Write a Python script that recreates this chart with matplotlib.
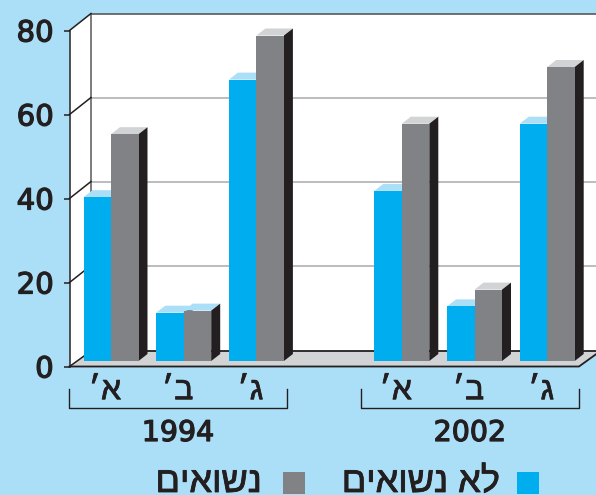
import matplotlib
matplotlib.use("Agg")
import matplotlib.pyplot as plt
from matplotlib.patches import Polygon, Rectangle
import matplotlib.patheffects as pe
import numpy as np

# ---- data ----
years = ["1994", "2002"]
tick_values = [0, 20, 40, 60, 80]
# Hebrew strings are stored in visual order: matplotlib does not apply bidi
categories = ["׳א", "׳ב", "׳ג", "׳א", "׳ב", "׳ג"]
not_married = [39, 11.5, 67, 40.5, 13, 56.5]
married = [54, 12, 77.5, 56.5, 17, 70]
label_not_married = "לא נשואים"[::-1]
label_married = "נשואים"[::-1]
slots = [0, 1, 2, 4, 5, 6]

# ---- style / layout ----
BG = "#ABDFF8"; BLUE = "#00AEEF"; GREY = "#808285"; DARK = "#231F20"
LIGHTGREY = "#D1D3D4"; GRID = "#A7A9AC"; WALL = "#58595B"
W, H = 596, 495
X0, SX = 111.0, 72.7     # pixel position of slot 0, pixels per slot
Y0, SY = 366.5, 4.2      # pixel position of value 0, pixels per unit
def dx(px): return px / SX
def dy(px): return px / SY
def X(px): return (px - X0) / SX
def Y(py): return (Y0 - py) / SY
DEPTH_X, DEPTH_Y = dx(21.5), dy(15.5)    # depth of the box at the floor
DEPTH_Y_UP = dy(17)                      # depth of the box at the gridlines
BAR_DX, BAR_DY = dx(9), dy(7)            # depth of each bar
BAR_W = dx(27.5)
BASE = dy(5.5)                           # bar foot above the front floor edge
HEB = ["Liberation Sans", "DejaVu Sans"]
def thick(w):
    return [pe.withStroke(linewidth=w, foreground=DARK)]

fig = plt.figure(figsize=(W / 100, H / 100), dpi=100, facecolor=BG)
ax = fig.add_axes([0, 0, 1, 1], facecolor=BG)
ax.set_xlim(X(0), X(W))
ax.set_ylim(Y(H), Y(0))
for s in ["top", "right", "bottom"]:
    ax.spines[s].set_visible(False)

left = X(69.5)
right_front = X(579)
vmax = 80
far = X(W + 10)
# back wall, side wall, floor
ax.add_patch(Polygon([(left, 0), (left + DEPTH_X, DEPTH_Y), (left + DEPTH_X, vmax + DEPTH_Y_UP),
                      (left, vmax)], fc="white", ec="none", zorder=1))
ax.add_patch(Rectangle((left + DEPTH_X, DEPTH_Y), far - left - DEPTH_X, vmax + DEPTH_Y_UP - DEPTH_Y,
                       fc="white", ec="none", zorder=1))
ax.add_patch(Polygon([(left, 0), (left + DEPTH_X, DEPTH_Y), (right_front + DEPTH_X, DEPTH_Y),
                      (right_front, 0)], fc=LIGHTGREY, ec="none", zorder=2))
for v in tick_values[1:-1]:
    ax.plot([left + DEPTH_X, far], [v + DEPTH_Y_UP] * 2, color=GRID, lw=1.1, zorder=2)
ax.plot([left + DEPTH_X, far], [vmax + DEPTH_Y_UP] * 2, color=WALL, lw=1.2, zorder=3)
ax.plot([left + DEPTH_X] * 2, [DEPTH_Y, vmax + DEPTH_Y_UP], color=WALL, lw=1.1, zorder=3)
for v in tick_values:
    ax.plot([left, left + DEPTH_X], [v, v + (DEPTH_Y if v == 0 else DEPTH_Y_UP)], color=DARK, lw=1.1, zorder=3)
ax.plot([left + DEPTH_X, right_front + DEPTH_X], [DEPTH_Y] * 2, color=DARK, lw=1.3, zorder=3)
ax.plot([left, right_front, right_front + DEPTH_X], [0, 0, DEPTH_Y], color=DARK, lw=1.3, zorder=3)

# bars
def bar3d(x0, value, front, top, z):
    ax.bar(x0, value, BAR_W, bottom=BASE, align="edge", color=front, zorder=z + 0.2)
    t = BASE + value
    ax.add_patch(Polygon([(x0, t), (x0 + BAR_W, t), (x0 + BAR_W + BAR_DX, t + BAR_DY), (x0 + BAR_DX, t + BAR_DY)],
                         fc=top, ec="none", zorder=z))
    ax.add_patch(Polygon([(x0 + BAR_W, BASE), (x0 + BAR_W + BAR_DX, BASE + BAR_DY),
                          (x0 + BAR_W + BAR_DX, t + BAR_DY), (x0 + BAR_W, t)],
                         fc=DARK, ec="none", zorder=z))

for i, (s, a, b) in enumerate(zip(slots, not_married, married)):
    bar3d(s - BAR_W, a, BLUE, BG, 4 + i)
    # grey bars have grey caps; the 1994 ב bar has a light blue one
    bar3d(s, b, GREY, BG if i == 1 else LIGHTGREY, 4.5 + i)

# axis
ax.spines["left"].set_position(("data", left))
ax.spines["left"].set_bounds(0, vmax)
ax.spines["left"].set_color(DARK)
ax.spines["left"].set_linewidth(1.1)
ax.spines["left"].set_zorder(3.5)
ax.set_yticks(tick_values)
ax.set_yticklabels([str(v) for v in tick_values])
ax.tick_params(axis="y", length=4.5, width=1.1, color=DARK, pad=7, labelsize=21, labelcolor=DARK)
for t in ax.get_yticklabels():
    t.set_family("DejaVu Sans")
    t.set_path_effects(thick(0.9))
ax.xaxis.set_ticks_position("bottom")
ax.spines["bottom"].set_position(("data", 0))
ax.set_xticks([s - dx(6) for s in slots])
ax.set_xticklabels(categories)
ax.tick_params(axis="x", length=0, pad=7, labelsize=23, labelcolor=DARK)
for t in ax.get_xticklabels():
    t.set_family(HEB)
    t.set_path_effects(thick(0.5))

# brackets + year labels
spans = [(69, 287), (361, 579)]
for (a, b), yr in zip(spans, years):
    ax.plot([X(a), X(a), X(b), X(b)], [Y(389), Y(408), Y(408), Y(389)], color=DARK, lw=1.0, zorder=3, clip_on=False)
    ax.text(X((a + b) / 2), Y(433), yr, ha="center", va="center", fontsize=20.5,
            family="DejaVu Sans", color=DARK, path_effects=thick(0.9))

# legend
for x1, x2, c in [(517, 539, BLUE), (283, 305, GREY)]:
    ax.add_patch(Rectangle((X(x1), Y(494)), dx(x2 - x1), dy(22), fc=c, ec="none", zorder=3))
for px, lab in [(500, label_not_married), (262, label_married)]:
    ax.text(X(px), Y(492), lab, ha="right", va="baseline", fontsize=26,
            family=HEB, color=DARK, path_effects=thick(0.6))

fig.savefig("out.png", dpi=100, facecolor=BG)
